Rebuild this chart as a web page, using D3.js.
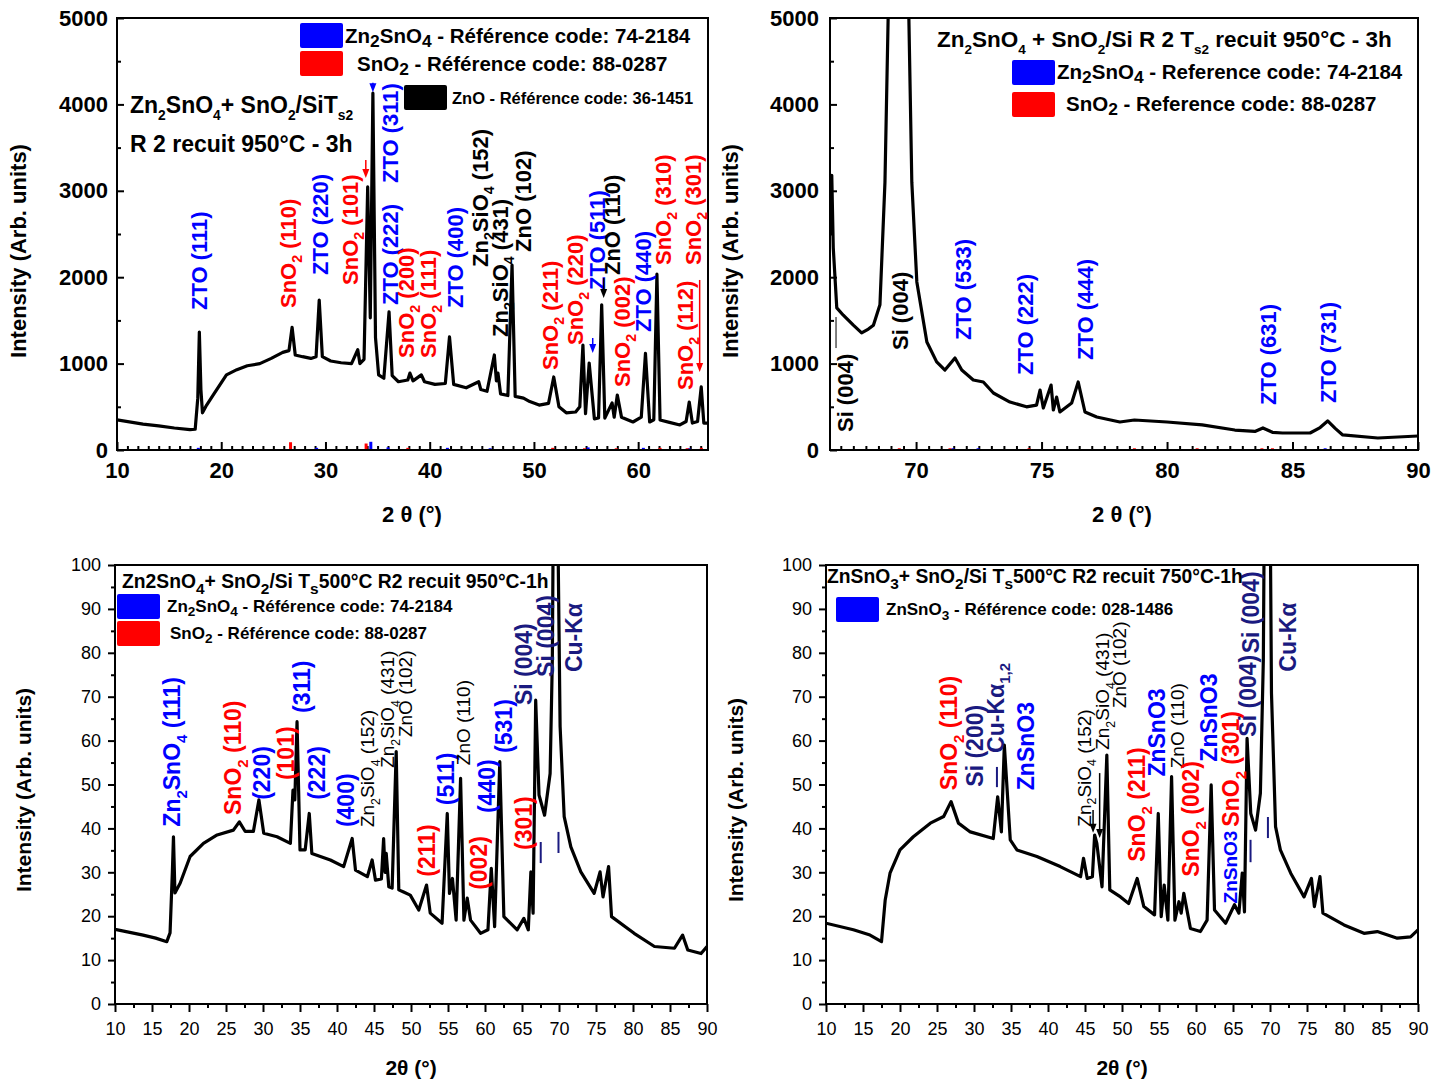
<!DOCTYPE html>
<html>
<head>
<meta charset="utf-8">
<script src="https://cdn.jsdelivr.net/npm/d3@7"></script>
<style>
body { margin:0; background:#fff; }
text { font-family: Arial, "Liberation Sans", Helvetica, sans-serif; }
</style>
</head>
<body>
<svg id="chart" width="1445" height="1082"></svg>
<script>
// ---------- data ----------
// panel 1 : Zn2SnO4 + SnO2 / Si Ts2, 10-66.7 deg
const p1T = [10,12.5,14,15.5,17,17.5,17.75,17.9,18.05,18.2,18.6,19.3,20.5,21.5,22.5,23.7,24.8,25.9,26.5,26.8,27.1,27.8,28.6,29.1,29.4,29.7,30.5,31.5,32.5,33.1,33.3,33.7,34.05,34.3,34.55,34.8,35.1,35.6,36.1,36.4,37,37.9,38.1,38.4,39.2,39.5,40.5,41.5,41.9,42.3,43.5,44.7,44.9,45.5,46.2,46.4,46.55,46.8,47.5,47.9,48.2,49,49.6,50.5,51.4,51.9,52.4,53.1,54,54.4,54.7,54.95,55.3,55.8,56.2,56.5,56.8,57.5,57.7,58,58.4,59.5,60.3,60.7,61.1,61.5,61.8,62.1,63,64,64.6,64.9,65.2,65.7,66.05,66.3,66.7];
const p1I = [350,300,280,255,235,240,600,1366,700,430,520,650,870,930,975,1000,1060,1130,1150,1420,1100,1080,1060,1080,1735,1080,1030,1010,1000,1160,1000,1050,3045,1530,4130,1300,870,830,1600,860,790,810,890,800,870,790,760,770,1310,760,720,790,700,680,1100,800,890,650,630,2140,620,600,560,520,540,845,500,430,440,500,1215,420,1007,360,370,1680,370,545,380,636,380,324,380,1120,324,350,2035,347,320,290,330,555,312,330,730,312,312];
const p1ZtoRef = [17.8,29.15,34.35,36.0,41.7,45.8,55.2,60.5,64.9];
const p1ZtoRefH = [25,25,95,30,25,20,30,25,20];
const p1SnoRef = [26.65,33.9,37.9,51.8,54.85,57.9,62.1,64.7,66.06];
const p1SnoRefH = [90,75,25,25,20,20,25,20,25];
const p1Labels = [
  ["ZTO (111)",17.86,1620,"b"],["SnO_{2} (110)",26.4,1643,"r"],["ZTO (220)",29.46,2025,"b"],
  ["SnO_{2} (101)",32.34,1910,"r"],["ZTO (311)",36.17,3090,"b"],["ZTO (222)",36.17,1678,"b"],
  ["SnO_{2} (200)",37.71,1065,"r"],["SnO_{2} (111)",39.82,1065,"r"],["ZTO (400)",42.41,1643,"b"],
  ["Zn_{2}SiO_{4} (152)",44.8,2118,"k"],["Zn_{2}SiO_{4} (431)",46.72,1308,"k"],["ZnO (102)",48.93,2292,"k"],
  ["SnO_{2} (211)",51.51,926,"r"],["SnO_{2} (220)",53.91,1215,"r"],["ZTO (511)",56.02,1852,"b"],
  ["ZnO (110)",57.46,2025,"k"],["SnO_{2} (002)",58.42,729,"r"],["ZTO (440)",60.43,1366,"b"],
  ["SnO_{2} (310)",62.35,2141,"r"],["SnO_{2} (112)",64.46,694,"r"],["SnO_{2} (301)",65.23,2141,"r"]
];
const p1Arrows = [[34.55,4250,4140,"b"],[33.87,3356,3148,"r"],[56.69,1990,1760,"k"],[55.64,1296,1123,"b"],[65.9,1968,903,"r"]];

// panel 2 : same sample, 66.57-90 deg
const p2T = [66.57,66.64,66.7,66.84,67.1,67.5,67.83,68.1,68.3,68.56,68.76,68.9,69.3,69.7,69.83,70.03,70.43,70.82,71.15,71.55,71.82,72.28,72.68,73.08,73.74,74.4,74.8,74.94,75.07,75.38,75.47,75.6,75.73,76.2,76.46,76.73,77.2,78.12,78.7,80,81.4,82.7,83.5,83.82,84.2,84.6,85.7,86.1,86.4,86.7,87,88.4,90];
const p2I = [2500,3180,2340,1645,1560,1445,1355,1400,1445,1680,3100,5200,12000,5200,3100,1945,1250,1020,925,1065,925,810,787,660,555,500,520,694,486,752,463,613,440,545,787,440,382,324,347,324,290,231,215,255,205,197,197,260,336,250,174,139,162];
const p2ZtoRef = [71.47,72.47,86.3];
const p2ZtoRefH = [20,20,20];
const p2SnoRef = [69.33,71.35,74.5,78.7,81.2,83.78,84.2];
const p2SnoRefH = [20,20,20,20,20,20,20];
const p2Labels = [
  ["Si (004)",67.17,208,"k"],["Si (004)",69.36,1157,"k"],["ZTO (533)",71.87,1273,"b"],
  ["ZTO (222)",74.34,868,"b"],["ZTO (444)",76.73,1042,"b"],["ZTO (631)",84.02,521,"b"],["ZTO (731)",86.41,544,"b"]
];
const p2Marks = [[66.81,1539,1180,"k"]];

// panel 3 : Zn2SnO4 + SnO2 / Si Ts500 recuit 950 1h
const p3T = [10,11.5,13.8,15.5,17,17.44,17.75,17.9,18.1,18.8,20.15,21.95,23.8,26,26.8,27.6,28.7,29.45,30.1,31.9,33.7,34.05,34.3,34.6,35,35.7,36.25,36.6,39.1,40.9,42.05,42.5,44.1,44.75,45.2,46,46.3,46.5,46.65,47,47.45,48,48.35,49,49.9,51.05,52.1,52.6,54.2,54.9,55.2,55.6,56.1,56.7,57.15,57.6,58.05,59.4,60.4,60.85,61.3,62,62.55,64.35,65.25,65.85,66.2,66.5,66.85,67.3,68.05,68.8,69.1,69.3,69.7,70.15,70.7,71.6,72.95,74.75,75.55,75.95,76.7,77.1,80.15,82.9,85.6,86.7,87.4,89.2,90];
const p3I = [17,16.5,15.7,15,14.2,16.2,30,38.1,25.3,27.5,33.6,36.6,38.5,39.6,41.5,39.3,39.3,46.5,38.9,38.1,36.6,48.7,46.5,64.3,35.1,35.1,43.4,34.3,32.8,31.3,37.7,30.5,29,32.8,28.2,28.5,37.7,30,34.3,26.7,26.4,57.5,26,25.5,24.8,21.4,27.1,20.7,18.4,43.4,25.2,28.6,19.1,51.4,19.1,24.1,19.1,16.1,16.9,30.9,17.6,55.2,19.9,16.9,19.5,16.9,30.1,20.7,69.2,47.6,43,52.5,78.4,130,130,63.2,42.7,35.8,30.1,25.2,30.1,24.4,31.3,19.9,16.1,13.1,12.7,15.7,12.3,11.5,13.1];
const p3Labels = [
  ["Zn_{2}SnO_{4} (111)",17.67,40.4,"b"],["SnO_{2} (110)",25.97,43.05,"r"],["(220)",29.86,46.5,"b"],
  ["(101)",33.01,51,"r"],["(311)",35.27,66.3,"b"],["(222)",37.21,46.5,"b"],["(400)",41.13,40.3,"b"],
  ["Zn_{2}SiO_{4} (152)",44.07,40.3,"k"],["Zn_{2}SiO_{4} (431)",46.78,53.8,"k"],["ZnO (102)",49.26,60.8,"k"],
  ["(211)",52.19,29,"r"],["(511)",54.67,45.3,"b"],["ZnO (110)",57.07,54.4,"k"],["(002)",59.18,26,"r"],
  ["(440)",60.22,43.5,"b"],["(531)",62.56,57.2,"b"],["(301)",65.27,35.1,"r"],
  ["Si (004)",65.19,68.1,"n"],["Si (004)",68.21,74.5,"n"],["Cu-Kα",72.04,75.6,"n"]
];
const p3Marks = [[67.53,36.9,32.1,"n"],[69.93,39.2,34.4,"n"]];

// panel 4 : ZnSnO3 + SnO2 / Si Ts500 recuit 750 1h
const p4T = [10,13.7,15.95,17.5,18,18.65,20,21.8,24.1,25.9,26.9,27.9,29.5,32.6,33.2,33.7,34.1,34.9,35.8,38.5,41.65,44.4,44.8,45.3,46,46.3,46.6,47.3,47.95,48.35,49.8,50.9,52.05,52.95,54.4,54.9,55.3,55.7,56.2,56.7,57.15,57.7,58,58.35,59.25,60.6,61.5,62.05,62.5,64,65.2,65.8,66.25,66.55,66.9,67.4,68.05,68.7,69.1,69.3,69.95,70.2,70.75,71.4,72.8,74.6,75.6,76,76.75,77.15,80,82.7,84.5,87.2,89,90];
const p4I = [18.4,16.9,15.7,14.2,23.7,29.8,35.1,38.1,41.2,42.7,46.1,41.2,39.2,37.7,47.2,39.2,59,37.4,35.1,33.6,31.3,29,33.2,28.6,29,38.5,36.6,26.7,56.7,26,24.4,22.9,28.6,22.2,20.3,43.4,19.9,27.1,19.1,51.8,19.1,23.3,20.7,25.2,17.2,16.5,19.1,49.9,21.4,18.4,22.6,20.7,29.8,21,60.5,43.4,39.6,48,78.4,130,130,70.8,40.4,35.1,29.8,24.4,28.6,22.2,29,20.7,18,16.1,16.5,15,15.3,16.9];
const p4Labels = [
  ["SnO_{2} (110)",26.55,48.7,"r"],["Si (200)",30.16,49.5,"n"],["Cu-Kα_{1,2}",32.87,57.2,"n"],
  ["ZnSnO3",36.93,48.7,"b"],["Zn_{2}SiO_{4} (152)",44.82,40.4,"k"],["Zn_{2}SiO_{4} (431)",47.31,57.9,"k"],
  ["ZnO (102)",49.55,67.4,"k"],["SnO_{2} (211)",52.04,32.4,"r"],["ZnSnO3",54.75,51.8,"b"],
  ["ZnO (110)",57.46,53.7,"k"],["SnO_{2} (002)",59.26,29,"r"],["ZnSnO3",61.73,55.2,"b"],
  ["ZnSnO3",64.67,22.9,"s"],["SnO_{2} (301)",64.67,40.4,"r"],["Si (004)",66.93,60.9,"n"],
  ["Si (004)",67.37,79.9,"n"],["Cu-Kα",72.34,75.7,"n"]
];
const p4Marks = [[33.1,54,49.4,"n"],[67.37,37.4,32.3,"n"],[69.72,42.6,37.8,"n"]];
const p4Arrows = [[46.09,44.2,39,"k"],[46.98,52.6,37.8,"k"]];

// ---------- drawing ----------
const svg = d3.select("#chart");
const colorOf = {b:"#0000ff", r:"#ff0000", k:"#000000", n:"#1a1a80", s:"#0000ff"};

// text with _{..} subscripts
function rich(sel, str, fs, sc, drop) {
  const parts = str.split(/(_\{[^}]*\})/).filter(s => s.length);
  const d = fs * (drop || 0.3);
  let shift = 0;
  parts.forEach(p => {
    const t = sel.append("tspan");
    if (p.startsWith("_{")) {
      t.attr("font-size", fs * sc).attr("dy", d - shift).text(p.slice(2, -1));
      shift = d;
    } else {
      t.attr("dy", -shift).text(p);
      shift = 0;
    }
  });
}

function plainText(x, y, str, fs, weight, sc, rot, drop) {
  const t = svg.append("text")
      .attr("font-size", fs)
      .attr("font-weight", weight)
      .attr("fill", "#000");
  if (rot) t.attr("transform", "translate(" + x + "," + y + ") rotate(-90)").attr("text-anchor", "middle");
  else t.attr("x", x).attr("y", y);
  rich(t, str, fs, sc, drop);
  return t;
}

function styleAxis(g, fs, bold) {
  g.selectAll("text")
      .style("font-family", "Arial, 'Liberation Sans', sans-serif")
      .style("font-size", fs + "px")
      .style("font-weight", bold ? "bold" : "normal")
      .attr("fill", "#000");
  g.selectAll("line").attr("stroke", "#000").attr("stroke-width", 2);
  g.select(".domain").remove();
}

function drawPanel(c) {
  const x = d3.scaleLinear().domain(c.xd).range([c.left, c.right]);
  const y = d3.scaleLinear().domain(c.yd).range([c.bottom, c.top]);

  // clip
  svg.append("clipPath").attr("id", c.id + "clip")
    .append("rect").attr("x", c.left).attr("y", c.top)
    .attr("width", c.right - c.left).attr("height", c.bottom - c.top);

  // axes
  const s = c.inward ? -1 : 1;
  const gx = svg.append("g").attr("transform", "translate(0," + c.bottom + ")")
      .call(d3.axisBottom(x).tickValues(c.xMajor).tickSize(s * 8).tickSizeOuter(0)
            .tickPadding(c.xPad).tickFormat(d3.format("d")));
  styleAxis(gx, c.tickFs, c.inward);
  const gxm = svg.append("g").attr("transform", "translate(0," + c.bottom + ")")
      .call(d3.axisBottom(x).tickValues(c.xMinor).tickSize(s * 4).tickSizeOuter(0).tickFormat(""));
  styleAxis(gxm, c.tickFs, c.inward);

  const gy = svg.append("g").attr("transform", "translate(" + c.left + ",0)")
      .call(d3.axisLeft(y).tickValues(c.yMajor).tickSize(s * 7).tickSizeOuter(0)
            .tickPadding(c.yPad).tickFormat(d3.format("d")));
  styleAxis(gy, c.tickFs, c.inward);
  const gym = svg.append("g").attr("transform", "translate(" + c.left + ",0)")
      .call(d3.axisLeft(y).tickValues(c.yMinor).tickSize(s * 4).tickSizeOuter(0).tickFormat(""));
  styleAxis(gym, c.tickFs, c.inward);

  // reference sticks
  (c.refs || []).forEach(r => {
    svg.append("g").selectAll("rect").data(r.t).enter().append("rect")
        .attr("x", d => x(d) - 1.5)
        .attr("width", 3)
        .attr("y", (d, i) => y(r.h[i]))
        .attr("height", (d, i) => y(0) - y(r.h[i]))
        .attr("fill", colorOf[r.c]);
  });

  // curve
  const pts = c.t.map((d, i) => [d, c.i[i]]);
  svg.append("path")
      .datum(pts)
      .attr("clip-path", "url(#" + c.id + "clip)")
      .attr("fill", "none")
      .attr("stroke", "#000")
      .attr("stroke-width", 3.2)
      .attr("stroke-linejoin", "round")
      .attr("d", d3.line().x(d => x(d[0])).y(d => y(d[1])));

  // frame
  svg.append("rect").attr("x", c.left).attr("y", c.top)
      .attr("width", c.right - c.left).attr("height", c.bottom - c.top)
      .attr("fill", "none").attr("stroke", "#000").attr("stroke-width", 2);

  // peak labels (rotated)
  c.labels.forEach(d => {
    const st = c.styles[d[3]];
    const t = svg.append("text")
        .attr("transform", "translate(" + (x(d[1]) + st.fs * 0.36) + "," + y(d[2]) + ") rotate(-90)")
        .attr("fill", colorOf[d[3]])
        .attr("font-size", st.fs)
        .attr("font-weight", st.w);
    rich(t, d[0], st.fs, 0.65);
  });

  // small vertical marks
  (c.marks || []).forEach(m => {
    svg.append("line")
        .attr("x1", x(m[0])).attr("x2", x(m[0]))
        .attr("y1", y(m[1])).attr("y2", y(m[2]))
        .attr("stroke", colorOf[m[3]])
        .attr("stroke-width", m[3] == "k" ? 1 : 2);
  });

  // arrows
  (c.arrows || []).forEach(a => {
    const ax = x(a[0]), y0 = y(a[1]), y1 = y(a[2]);
    svg.append("line").attr("x1", ax).attr("x2", ax).attr("y1", y0).attr("y2", y1 - 6)
        .attr("stroke", colorOf[a[3]]).attr("stroke-width", 1.5);
    svg.append("path")
        .attr("d", "M" + (ax - 3.5) + "," + (y1 - 9) + "L" + (ax + 3.5) + "," + (y1 - 9) + "L" + ax + "," + y1 + "Z")
        .attr("fill", colorOf[a[3]]);
  });

  // axis titles
  plainText(c.yTitle[0], c.yTitle[1], "Intensity (Arb. units)", c.titleFs, "bold", 0.7, true);
  svg.append("text").attr("x", c.xTitle[0]).attr("y", c.xTitle[1])
      .attr("text-anchor", "middle").attr("font-size", c.titleFs).attr("font-weight", "bold")
      .text(c.xTitleText);
  return {x: x, y: y};
}

const topStyles = {b:{fs:22, w:"bold"}, r:{fs:22, w:"bold"}, k:{fs:22, w:"bold"}};
const botStyles = {b:{fs:23, w:"bold"}, r:{fs:23, w:"bold"}, n:{fs:23, w:"bold"}, k:{fs:19, w:"normal"}, s:{fs:19, w:"bold"}};

drawPanel({
  id:"p1", left:117, right:708, top:18, bottom:450, xd:[10,66.7], yd:[0,5000],
  t:p1T, i:p1I, inward:true, tickFs:22, xPad:12, yPad:9,
  xMajor:[10,20,30,40,50,60], xMinor:d3.range(11,67,1).filter(v => v % 10),
  yMajor:[0,1000,2000,3000,4000,5000], yMinor:[500,1500,2500,3500,4500],
  refs:[{t:p1ZtoRef, h:p1ZtoRefH, c:"b"}, {t:p1SnoRef, h:p1SnoRefH, c:"r"}],
  labels:p1Labels, styles:topStyles, arrows:p1Arrows,
  yTitle:[26,251], xTitle:[412,522], xTitleText:"2 θ (°)", titleFs:22
});

drawPanel({
  id:"p2", left:830, right:1418, top:18, bottom:450, xd:[66.57,90], yd:[0,5000],
  t:p2T, i:p2I, inward:true, tickFs:22, xPad:12, yPad:11,
  xMajor:[70,75,80,85,90], xMinor:d3.range(67,90,0.5).filter(v => v % 5),
  yMajor:[0,1000,2000,3000,4000,5000], yMinor:[500,1500,2500,3500,4500],
  refs:[{t:p2ZtoRef, h:p2ZtoRefH, c:"b"}, {t:p2SnoRef, h:p2SnoRefH, c:"r"}],
  labels:p2Labels, styles:{b:{fs:22, w:"bold"}, k:{fs:22, w:"bold"}}, marks:p2Marks,
  yTitle:[738,251], xTitle:[1122,522], xTitleText:"2 θ (°)", titleFs:22
});

drawPanel({
  id:"p3", left:115, right:707, top:565, bottom:1004, xd:[10,90], yd:[0,100],
  t:p3T, i:p3I, inward:false, tickFs:18, xPad:10, yPad:7,
  xMajor:d3.range(10,91,5), xMinor:d3.range(12.5,90,5),
  yMajor:d3.range(0,101,10), yMinor:d3.range(5,100,10),
  labels:p3Labels, styles:botStyles, marks:p3Marks,
  yTitle:[31,790], xTitle:[411,1075], xTitleText:"2θ (°)", titleFs:21
});

drawPanel({
  id:"p4", left:826, right:1418, top:565, bottom:1004, xd:[10,90], yd:[0,100],
  t:p4T, i:p4I, inward:false, tickFs:18, xPad:10, yPad:7,
  xMajor:d3.range(10,91,5), xMinor:d3.range(12.5,90,5),
  yMajor:d3.range(0,101,10), yMinor:d3.range(5,100,10),
  labels:p4Labels, styles:botStyles, marks:p4Marks, arrows:p4Arrows,
  yTitle:[743,800], xTitle:[1122,1075], xTitleText:"2θ (°)", titleFs:21
});

// legends and sample titles
function legendBox(x, y, col) {
  svg.append("rect").attr("x", x).attr("y", y).attr("width", 43).attr("height", 25)
      .attr("rx", 2).attr("fill", col);
}

// panel 1
legendBox(300, 23, "#0000ff");
plainText(345, 43, "Zn_{2}SnO_{4} - Référence code: 74-2184", 20.5, "bold", 0.85, false, 0.2);
legendBox(300, 51, "#ff0000");
plainText(357, 71, "SnO_{2} - Référence code: 88-0287", 20.5, "bold", 0.85, false, 0.2);
legendBox(404, 85, "#000000");
plainText(452, 104, "ZnO - Référence code: 36-1451", 16.5, "bold", 0.8);
plainText(130, 113, "Zn_{2}SnO_{4}+ SnO_{2}/SiT_{s2}", 23, "bold", 0.6);
plainText(130, 152, "R 2 recuit 950°C - 3h", 23, "bold", 0.6);

// panel 2
plainText(937, 47, "Zn_{2}SnO_{4} + SnO_{2}/Si R 2 T_{s2} recuit 950°C - 3h", 22.5, "bold", 0.6);
legendBox(1012, 60, "#0000ff");
plainText(1057, 79, "Zn_{2}SnO_{4} - Reference code: 74-2184", 20.5, "bold", 0.85, false, 0.2);
legendBox(1012, 92, "#ff0000");
plainText(1066, 111, "SnO_{2} - Reference code: 88-0287", 20.5, "bold", 0.85, false, 0.2);

// panel 3
plainText(122, 588, "Zn2SnO_{4}+ SnO_{2}/Si T_{s}500°C R2 recuit 950°C-1h", 19.3, "bold", 0.8);
legendBox(117, 594, "#0000ff");
plainText(167, 612, "Zn_{2}SnO_{4} - Référence code: 74-2184", 17, "bold", 0.8, false, 0.22);
legendBox(117, 621, "#ff0000");
plainText(170, 639, "SnO_{2} - Référence code: 88-0287", 17, "bold", 0.8, false, 0.22);

// panel 4
plainText(827, 583, "ZnSnO_{3}+ SnO_{2}/Si T_{s}500°C R2 recuit 750°C-1h", 19.3, "bold", 0.8);
legendBox(836, 597, "#0000ff");
plainText(886, 615, "ZnSnO_{3} - Référence code: 028-1486", 17, "bold", 0.8);
</script>
</body>
</html>
